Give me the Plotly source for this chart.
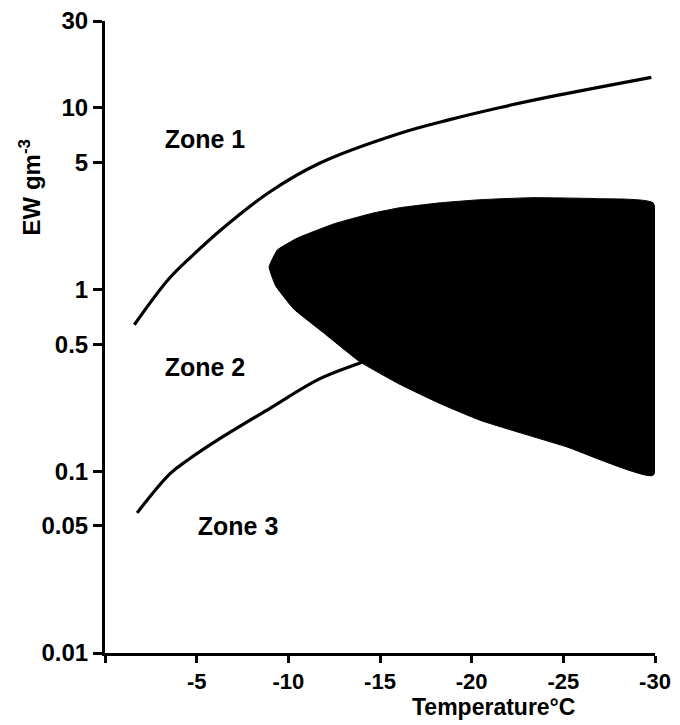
import plotly.graph_objects as go

# Zone 1 / Zone 2 boundary
upper_t = [-1.6, -3.5, -4.9, -6.3, -9.0, -11.7, -16.1, -18.8, -21.5, -24.3, -29.8]
upper_ew = [0.64, 1.15, 1.58, 2.12, 3.45, 4.95, 7.24, 8.6, 10.0, 11.5, 14.7]

# Zone 2 / Zone 3 boundary
lower_t = [-1.75, -3.55, -4.5, -6.3, -9.0, -11.7, -13.9, -14.6]
lower_ew = [0.059, 0.097, 0.115, 0.152, 0.222, 0.322, 0.394, 0.42]

# Shaded region: top edge (tip -> right), bottom edge (right -> tip)
shade_top_t = [-8.95, -9.4, -10.5, -12.5, -14.6, -16.1, -18.3, -20.5, -23.3, -26.9, -29.9]
shade_top_ew = [1.33, 1.65, 1.92, 2.3, 2.63, 2.82, 3.0, 3.12, 3.2, 3.16, 2.99]
shade_bot_t = [-29.9, -25.2, -20.5, -18.3, -16.1, -13.9, -11.9, -10.3, -9.3, -8.95]
shade_bot_ew = [0.095, 0.136, 0.19, 0.235, 0.30, 0.40, 0.58, 0.78, 1.05, 1.33]

zone_labels = ["Zone 1", "Zone 2", "Zone 3"]
zone_t = [-5.45, -5.45, -7.26]
zone_ew = [6.5, 0.36, 0.048]

x_tickvals = [0, -5, -10, -15, -20, -25, -30]
x_ticktext = ["", "-5", "-10", "-15", "-20", "-25", "-30"]
y_tickvals = [0.01, 0.05, 0.1, 0.5, 1, 5, 10, 30]
y_ticktext = ["0.01", "0.05", "0.1", "0.5", "1", "5", "10", "30"]

FONT = "Liberation Sans"
fig = go.Figure()

fig.add_trace(go.Scatter(
    x=shade_top_t + shade_bot_t, y=shade_top_ew + shade_bot_ew,
    mode="lines", fill="toself", fillcolor="black",
    line=dict(color="black", width=1, shape="spline", smoothing=0.35),
    hoverinfo="skip", showlegend=False))

fig.add_trace(go.Scatter(
    x=upper_t, y=upper_ew, mode="lines",
    line=dict(color="black", width=3.2, shape="spline", smoothing=1.0),
    showlegend=False))

fig.add_trace(go.Scatter(
    x=lower_t, y=lower_ew, mode="lines",
    line=dict(color="black", width=3.2, shape="spline", smoothing=1.0),
    showlegend=False))

fig.add_trace(go.Scatter(
    x=zone_t, y=zone_ew, mode="text", text=zone_labels,
    textfont=dict(family=FONT, size=25, color="black", weight="bold"),
    textposition="middle center", showlegend=False))

fig.update_xaxes(
    range=[0, -30], tickvals=x_tickvals, ticktext=x_ticktext,
    showline=True, linewidth=3, linecolor="black",
    ticks="outside", ticklen=7, tickwidth=3, tickcolor="black",
    showgrid=False, zeroline=False, automargin=False,
    tickfont=dict(family=FONT, size=22, color="black", weight="bold"))

fig.update_yaxes(
    type="log", range=[-2, 1.4771], tickvals=y_tickvals, ticktext=y_ticktext,
    showline=True, linewidth=3, linecolor="black",
    ticks="outside", ticklen=9, tickwidth=3, tickcolor="black",
    showgrid=False, zeroline=False, automargin=False,
    tickfont=dict(family=FONT, size=24, color="black", weight="bold"))

fig.add_annotation(
    xref="paper", yref="paper", x=-0.136, y=0.737,
    text="EW gm<sup>-3</sup>", textangle=-90, showarrow=False,
    font=dict(family=FONT, size=24, color="black", weight="bold"),
    xanchor="center", yanchor="middle")

fig.add_annotation(
    xref="paper", yref="paper", x=0.707, y=-0.109,
    text="Temperature°C", showarrow=False,
    font=dict(family=FONT, size=23, color="black", weight="bold"),
    xanchor="center", yanchor="bottom")

fig.update_layout(
    width=680, height=725,
    margin=dict(l=105, r=25, t=21, b=72, autoexpand=False),
    paper_bgcolor="white", plot_bgcolor="white")

fig.write_html("out.html", config={"displayModeBar": False},
               post_script="document.body.style.margin='0';document.body.style.overflow='hidden';")
